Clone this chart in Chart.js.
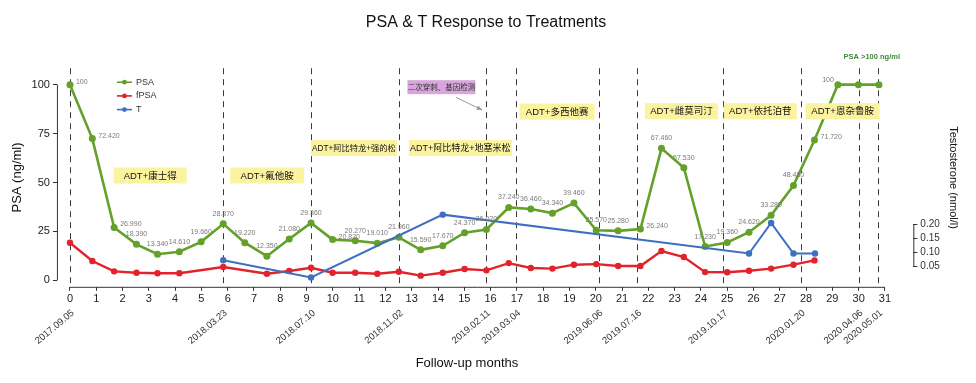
<!DOCTYPE html>
<html><head><meta charset="utf-8">
<script src="https://cdn.jsdelivr.net/npm/chart.js@4"></script>
<style>html,body{margin:0;padding:0;background:#fff}</style>
</head><body>
<canvas id="c" width="976" height="383" style="display:block;width:976px;height:383px"></canvas>
<script>
// ---------- data ----------
const months = [0,0.85,1.68,2.53,3.33,4.16,4.99,5.83,6.65,7.49,8.34,9.17,9.99,10.85,11.69,12.51,13.34,14.18,15.01,15.84,16.69,17.53,18.35,19.17,20.02,20.85,21.7,22.5,23.35,24.16,25.0,25.83,26.67,27.52,28.32,29.21,29.99,30.77];
const psa = [100,72.42,26.99,18.39,13.34,14.61,19.66,28.87,19.22,12.35,21.08,29.36,20.82,20.27,19.01,21.96,15.59,17.67,24.37,26.02,37.24,36.46,34.34,39.46,25.57,25.28,26.24,67.46,57.53,17.23,19.36,24.62,33.28,48.48,71.72,100,100,100];
const psaLabels = ['100','72.420','26.990','18.390','13.340','14.610','19.660','28.870','19.220','12.350','21.080','29.360','20.820','20.270','19.010','21.960','15.590','17.670','24.370','26.020','37.240','36.460','34.340','39.460','25.570','25.280','26.240','67.460','57.530','17.230','19.360','24.620','33.280','48.480','71.720','100','',''];
const fpsa = [19.2,9.9,4.6,3.9,3.6,3.6,null,6.8,null,3.4,4.8,6.4,3.9,3.9,3.4,4.4,2.4,3.9,5.8,5.1,8.8,6.3,6.0,8.0,8.3,7.3,7.3,15.0,11.9,4.2,4.1,4.9,6.0,8.0,10.2,null,null,null];
const tMonths = [5.83,9.17,14.18,25.83,26.67,27.52,28.34];
const tValues = [0.072,0.01,0.235,0.096,0.205,0.096,0.096];
const xTicks = [0,1,2,3,4,5,6,7,8,9,10,11,12,13,14,15,16,17,18,19,20,21,22,23,24,25,26,27,28,29,30,31];
const yTicks = [0,25,50,75,100];
const tTicks = [0.05,0.10,0.15,0.20];
const milestoneMonths = [0,5.82,9.17,12.51,15.83,16.98,20.11,21.58,24.85,27.8,30.0,30.75];
const milestoneDates = ['2017.09.05','2018.03.23','2018.07.10','2018.11.02','2019.02.11','2019.03.04','2019.06.06','2019.07.16','2019.10.17','2020.01.20','2020.04.06','2020.05.01'];
const treatments = ['ADT+康士得','ADT+氟他胺','ADT+阿比特龙+强的松','ADT+阿比特龙+地塞米松','ADT+多西他赛','ADT+雌莫司汀','ADT+依托泊苷','ADT+恩杂鲁胺'];
const noteText = '二次穿刺、基因检测';
const overflowText = 'PSA >100 ng/ml';
const seriesNames = ['PSA','fPSA','T'];

// ---------- styles ----------
const FONT = '"Liberation Sans", Arial, "Noto Sans CJK SC", sans-serif';
const GREEN = '#63a12a', RED = '#e3232b', BLUE = '#3f6fc0';
// placement of treatment boxes: center month, center PSA value, width px
const boxLayout = [[3.05,53.6,73],[7.5,53.6,74],[10.8,67.6,86],[14.85,67.6,103],[18.53,86.2,75],[23.26,86.4,73],[26.26,86.4,73],[29.39,86.4,74]];
const rightLabels = new Set([0,1,2,12,26,34]);
const leftLabels = new Set([35]);

const deco = {
  id: 'deco',
  beforeDatasetsDraw(chart) {
    const {ctx, chartArea: a, scales: {x}} = chart;
    ctx.save();
    ctx.strokeStyle = '#3a3a3a'; ctx.lineWidth = 1; ctx.setLineDash([6, 5]);
    milestoneMonths.forEach(m => {
      const px = Math.round(x.getPixelForValue(m)) + 0.5;
      ctx.beginPath(); ctx.moveTo(px, a.top); ctx.lineTo(px, a.bottom); ctx.stroke();
    });
    ctx.restore();
  },
  afterDatasetsDraw(chart) {
    const {ctx, chartArea: a, scales: {x, y}} = chart;
    ctx.save();
    // PSA value labels
    const meta = chart.getDatasetMeta(chart.data.datasets.findIndex(d => d.label === 'PSA'));
    ctx.font = '7px ' + FONT; ctx.fillStyle = '#7a7a7a'; ctx.textBaseline = 'middle';
    meta.data.forEach((pt, i) => {
      const t = psaLabels[i]; if (!t) return;
      if (rightLabels.has(i)) { ctx.textAlign = 'left'; ctx.fillText(t, pt.x + 6, pt.y - 3); }
      else if (leftLabels.has(i)) { ctx.textAlign = 'right'; ctx.fillText(t, pt.x - 4, pt.y - 5); }
      else { ctx.textAlign = 'center'; ctx.fillText(t, pt.x, pt.y - 10); }
    });
    // treatment boxes
    treatments.forEach((t, i) => {
      const [m, v, w] = boxLayout[i];
      const cx = x.getPixelForValue(m), cy = y.getPixelForValue(v), h = 16;
      ctx.fillStyle = '#fcf3a0';
      ctx.fillRect(cx - w / 2, cy - h / 2, w, h);
      let fs = 9.5;
      ctx.font = fs + 'px ' + FONT;
      while (ctx.measureText(t).width > w - 2 && fs > 7) { fs -= 0.25; ctx.font = fs + 'px ' + FONT; }
      ctx.fillStyle = '#111'; ctx.textAlign = 'center'; ctx.textBaseline = 'middle';
      ctx.fillText(t, cx, cy + 0.5);
    });
    // note box
    {
      const cx = x.getPixelForValue(14.13), cy = y.getPixelForValue(98.7), w = 68, h = 14;
      ctx.fillStyle = '#d8a6dc'; ctx.fillRect(cx - w / 2, cy - h / 2, w, h);
      ctx.font = '7.5px ' + FONT; ctx.fillStyle = '#333'; ctx.textAlign = 'center'; ctx.textBaseline = 'middle';
      ctx.fillText(noteText, cx, cy + 0.5);
      // arrow
      const x1 = x.getPixelForValue(14.69), y1 = y.getPixelForValue(93.5);
      const x2 = x.getPixelForValue(15.68), y2 = y.getPixelForValue(87.0);
      ctx.strokeStyle = '#9a9a9a'; ctx.fillStyle = '#9a9a9a'; ctx.lineWidth = 1;
      ctx.beginPath(); ctx.moveTo(x1, y1); ctx.lineTo(x2, y2); ctx.stroke();
      const ang = Math.atan2(y2 - y1, x2 - x1), L = 6;
      ctx.beginPath(); ctx.moveTo(x2, y2);
      ctx.lineTo(x2 - L * Math.cos(ang - 0.4), y2 - L * Math.sin(ang - 0.4));
      ctx.lineTo(x2 - L * Math.cos(ang + 0.4), y2 - L * Math.sin(ang + 0.4));
      ctx.closePath(); ctx.fill();
    }
    // legend
    const cols = [GREEN, RED, BLUE];
    seriesNames.forEach((n, i) => {
      const ly = a.top + 14 + i * 13.7, lx = a.left + 60;
      ctx.strokeStyle = cols[i]; ctx.lineWidth = 1.6;
      ctx.beginPath(); ctx.moveTo(lx, ly); ctx.lineTo(lx + 15, ly); ctx.stroke();
      ctx.fillStyle = cols[i]; ctx.beginPath(); ctx.arc(lx + 7.5, ly, 2.4, 0, Math.PI * 2); ctx.fill();
      ctx.fillStyle = '#333'; ctx.font = '9px ' + FONT; ctx.textAlign = 'left'; ctx.textBaseline = 'middle';
      ctx.fillText(n, lx + 19, ly);
    });
    ctx.restore();
  },
  afterDraw(chart) {
    const {ctx, chartArea: a, scales: {x, y, y1}} = chart;
    ctx.save();
    ctx.strokeStyle = '#333'; ctx.lineWidth = 1;
    // axis lines (R style, spanning tick range)
    ctx.beginPath();
    ctx.moveTo(x.getPixelForValue(0), a.bottom + 0.5); ctx.lineTo(x.getPixelForValue(31), a.bottom + 0.5);
    ctx.moveTo(a.left + 0.5, y.getPixelForValue(0)); ctx.lineTo(a.left + 0.5, y.getPixelForValue(100));
    ctx.moveTo(a.right + 0.5, y1.getPixelForValue(0.05)); ctx.lineTo(a.right + 0.5, y1.getPixelForValue(0.2));
    ctx.stroke();
    // date labels
    ctx.fillStyle = '#333'; ctx.font = '9.5px ' + FONT; ctx.textAlign = 'right'; ctx.textBaseline = 'middle';
    milestoneMonths.forEach((m, i) => {
      const px = x.getPixelForValue(m);
      ctx.save(); ctx.translate(px + 3, a.bottom + 25); ctx.rotate(-40 * Math.PI / 180);
      ctx.fillText(milestoneDates[i], 0, 0); ctx.restore();
    });
    // x title
    ctx.font = '13px ' + FONT; ctx.fillStyle = '#111'; ctx.textAlign = 'center'; ctx.textBaseline = 'middle';
    ctx.fillText('Follow-up months', x.getPixelForValue(15.1), 363);
    // overflow note
    ctx.font = 'bold 7.5px ' + FONT; ctx.fillStyle = '#3f8a3a';
    ctx.fillText(overflowText, x.getPixelForValue(30.5), y.getPixelForValue(113.9));
    ctx.restore();
  }
};

const pts = (xs, ys) => xs.map((m, i) => ({x: m, y: ys[i]}));

new Chart(document.getElementById('c'), {
  type: 'line',
  data: {
    datasets: [
      {label: 'T', data: pts(tMonths, tValues), yAxisID: 'y1', borderColor: BLUE, backgroundColor: BLUE, borderWidth: 2, pointRadius: 3.2, pointBorderWidth: 0, order: 0},
      {label: 'PSA', data: pts(months, psa), yAxisID: 'y', borderColor: GREEN, backgroundColor: GREEN, borderWidth: 2.6, pointRadius: 3.5, pointBorderWidth: 0, order: 1},
      {label: 'fPSA', data: pts(months, fpsa), yAxisID: 'y', borderColor: RED, backgroundColor: RED, borderWidth: 2.4, pointRadius: 3.2, pointBorderWidth: 0, spanGaps: true, order: 2}
    ]
  },
  options: {
    responsive: false, animation: false, devicePixelRatio: 1,
    layout: {padding: {left: 8, right: 12, top: 0, bottom: 75}},
    plugins: {
      legend: {display: false}, tooltip: {enabled: false},
      title: {display: true, text: 'PSA & T Response to Treatments', color: '#111', font: {family: FONT, size: 16, weight: 'normal'}, padding: {top: 13, bottom: 36}}
    },
    scales: {
      x: {type: 'linear', min: -0.495, max: 32.08,
        afterBuildTicks: s => { s.ticks = xTicks.map(v => ({value: v})); },
        ticks: {autoSkip: false, maxRotation: 0, padding: 2, color: '#222', font: {family: FONT, size: 11}, callback: v => String(v)},
        grid: {drawOnChartArea: false, tickLength: 4, color: '#333'}, border: {display: false}},
      y: {type: 'linear', position: 'left', min: -3.3, max: 108.4,
        afterBuildTicks: s => { s.ticks = yTicks.map(v => ({value: v})); },
        ticks: {padding: 3, color: '#222', font: {family: FONT, size: 11}, callback: v => String(v)},
        grid: {drawOnChartArea: false, tickLength: 4, color: '#333'}, border: {display: false},
        title: {display: true, text: 'PSA (ng/ml)', color: '#111', font: {family: FONT, size: 13}, padding: {top: 2, bottom: 3}}},
      y1: {type: 'linear', position: 'right', min: -0.0232, max: 0.759,
        afterBuildTicks: s => { s.ticks = tTicks.map(v => ({value: v})); },
        ticks: {padding: 3, color: '#333', font: {family: FONT, size: 10}, callback: v => Number(v).toFixed(2)},
        grid: {drawOnChartArea: false, tickLength: 4, color: '#333'}, border: {display: false},
        title: {display: true, text: 'Testosterone (nmol/l)', color: '#111', font: {family: FONT, size: 11}, padding: {top: 4, bottom: 4}}}
    }
  },
  plugins: [deco]
});
</script>
</body></html>
